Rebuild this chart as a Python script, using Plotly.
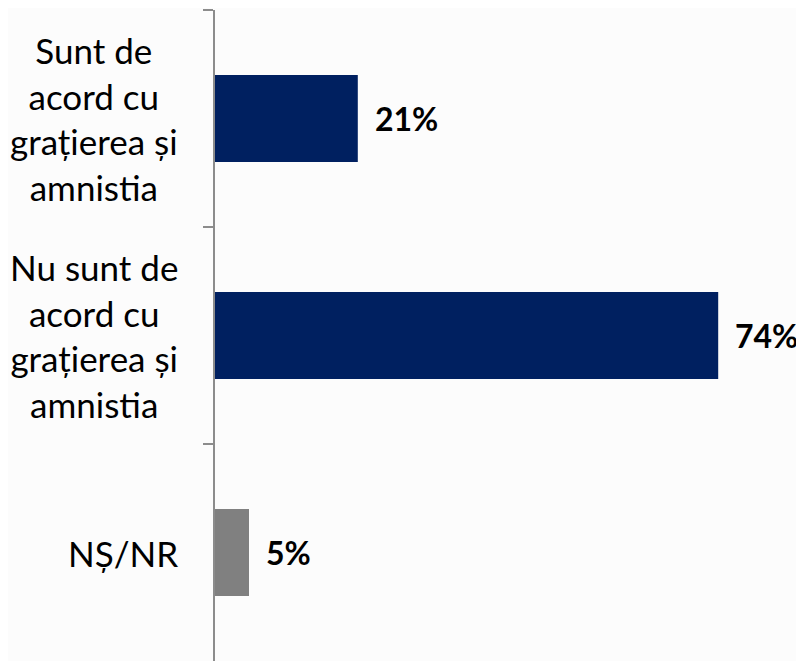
import plotly.graph_objects as go

categories = ["Sunt de<br>acord cu<br>grațierea și<br>amnistia",
              "Nu sunt de<br>acord cu<br>grațierea și<br>amnistia",
              "NȘ/NR"]
values = [21, 74, 5]
labels = ["21%", "74%", "5%"]
colors = ["#002060", "#002060", "#808080"]

FONT = "Lato, Calibri, sans-serif"

fig = go.Figure(go.Bar(
    y=categories, x=values, orientation="h",
    marker=dict(color=colors, line=dict(width=0)),
    cliponaxis=False, hoverinfo="x+y",
))

annotations = []
for cat, val, lab in zip(categories, values, labels):
    annotations.append(dict(
        x=val, y=cat, xref="x", yref="y", text=f"<b>{lab}</b>",
        showarrow=False, xanchor="left", yanchor="middle", xshift=15,
        font=dict(family=FONT, size=32, color="#000000")))
    annotations.append(dict(
        x=0, y=cat, xref="x", yref="y", text=cat, align="center",
        showarrow=False, xanchor="right", yanchor="middle", xshift=-35,
        font=dict(family=FONT, size=35, color="#000000")))

fig.update_layout(
    width=796, height=653,
    margin=dict(l=207, r=45, t=2, b=0, autoexpand=False),
    paper_bgcolor="#fcfcfc", plot_bgcolor="#fcfcfc",
    bargap=0.6, showlegend=False,
    font=dict(family=FONT, size=29, color="#000000"),
    annotations=annotations,
    xaxis=dict(range=[0, 80], visible=False, showgrid=False, zeroline=False,
               automargin=False),
    yaxis=dict(autorange="reversed", showgrid=False, zeroline=False,
               automargin=False, showticklabels=False,
               showline=True, linecolor="#8c8c8c", linewidth=2,
               ticks="outside", ticklen=10, tickcolor="#8c8c8c", tickwidth=2,
               tickson="boundaries"),
)

fig.write_html("out.html")
